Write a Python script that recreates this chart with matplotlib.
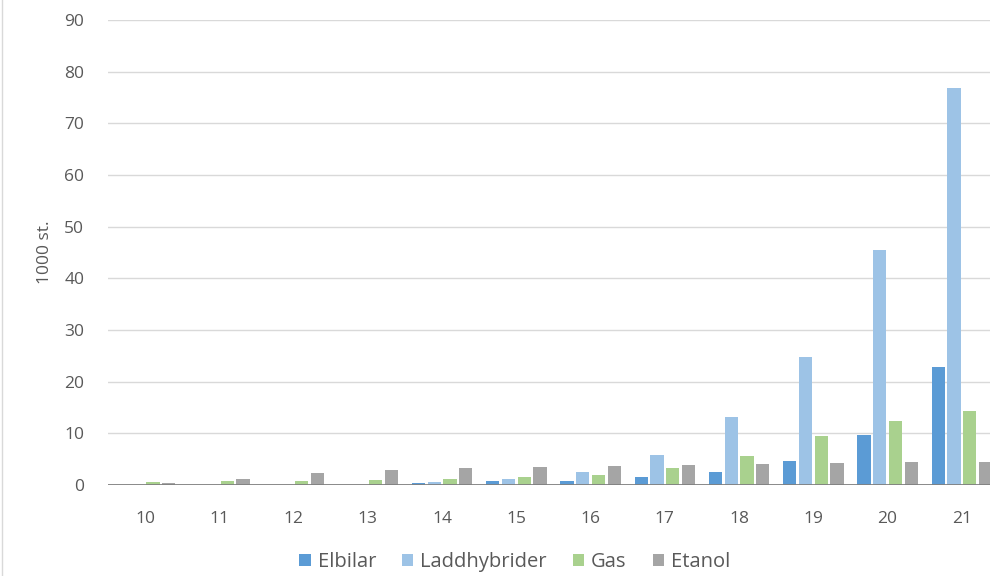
import numpy as np
import matplotlib.pyplot as plt
from matplotlib.lines import Line2D

plt.rcParams['font.family'] = ['Open Sans', 'DejaVu Sans']

years = ['10', '11', '12', '13', '14', '15', '16', '17', '18', '19', '20', '21']
elbilar = [0.0, 0.0, 0.0, 0.0, 0.4, 0.8, 0.8, 1.5, 2.5, 4.6, 9.7, 22.8]
laddhybrider = [0.0, 0.0, 0.0, 0.0, 0.5, 1.1, 2.5, 5.8, 13.2, 24.8, 45.5, 76.8]
gas = [0.5, 0.7, 0.8, 1.0, 1.2, 1.5, 1.9, 3.3, 5.6, 9.5, 12.4, 14.3]
etanol = [0.3, 1.2, 2.3, 2.9, 3.3, 3.4, 3.6, 3.9, 4.1, 4.3, 4.4, 4.4]

series = [('Elbilar', elbilar, '#5B9BD5'),
          ('Laddhybrider', laddhybrider, '#9DC3E6'),
          ('Gas', gas, '#A9D18E'),
          ('Etanol', etanol, '#A5A5A5')]

x = np.arange(len(years))
pitch = 0.212
width = 0.178

fig = plt.figure(figsize=(9.9, 5.76), dpi=100)
ax = fig.add_axes([0.109, 0.158, 0.900, 0.807])

for i, (name, vals, col) in enumerate(series):
    ax.bar(x + (i - 1.5) * pitch, vals, width, color=col, label=name, zorder=3)

ax.set_xlim(-0.5, len(years) - 0.5)
ax.set_ylim(0, 90)
ax.set_yticks(np.arange(0, 91, 10))
ax.set_xticks(x)
ax.set_xticklabels(years)
ax.grid(axis='y', color='#D9D9D9', lw=1, zorder=0)
ax.axhline(0, color='#7F7F7F', lw=2, zorder=4)

for s in ax.spines.values():
    s.set_visible(False)
ax.tick_params(length=0, labelsize=12.5, labelcolor='#595959')
ax.tick_params(axis='y', pad=17)
ax.tick_params(axis='x', pad=19)
ax.set_ylabel('1000 st.', fontsize=12.5, color='#595959', labelpad=8)

fig.legend(loc='center', bbox_to_anchor=(0.52, 0.024), ncol=4, frameon=False,
           fontsize=14.5, labelcolor='#595959', handlelength=0.55, handleheight=0.55,
           handletextpad=0.35, columnspacing=1.3)

fig.add_artist(Line2D([0.002, 0.002], [0, 1], color='#D9D9D9', lw=1))

fig.savefig('out.png', dpi=100)
